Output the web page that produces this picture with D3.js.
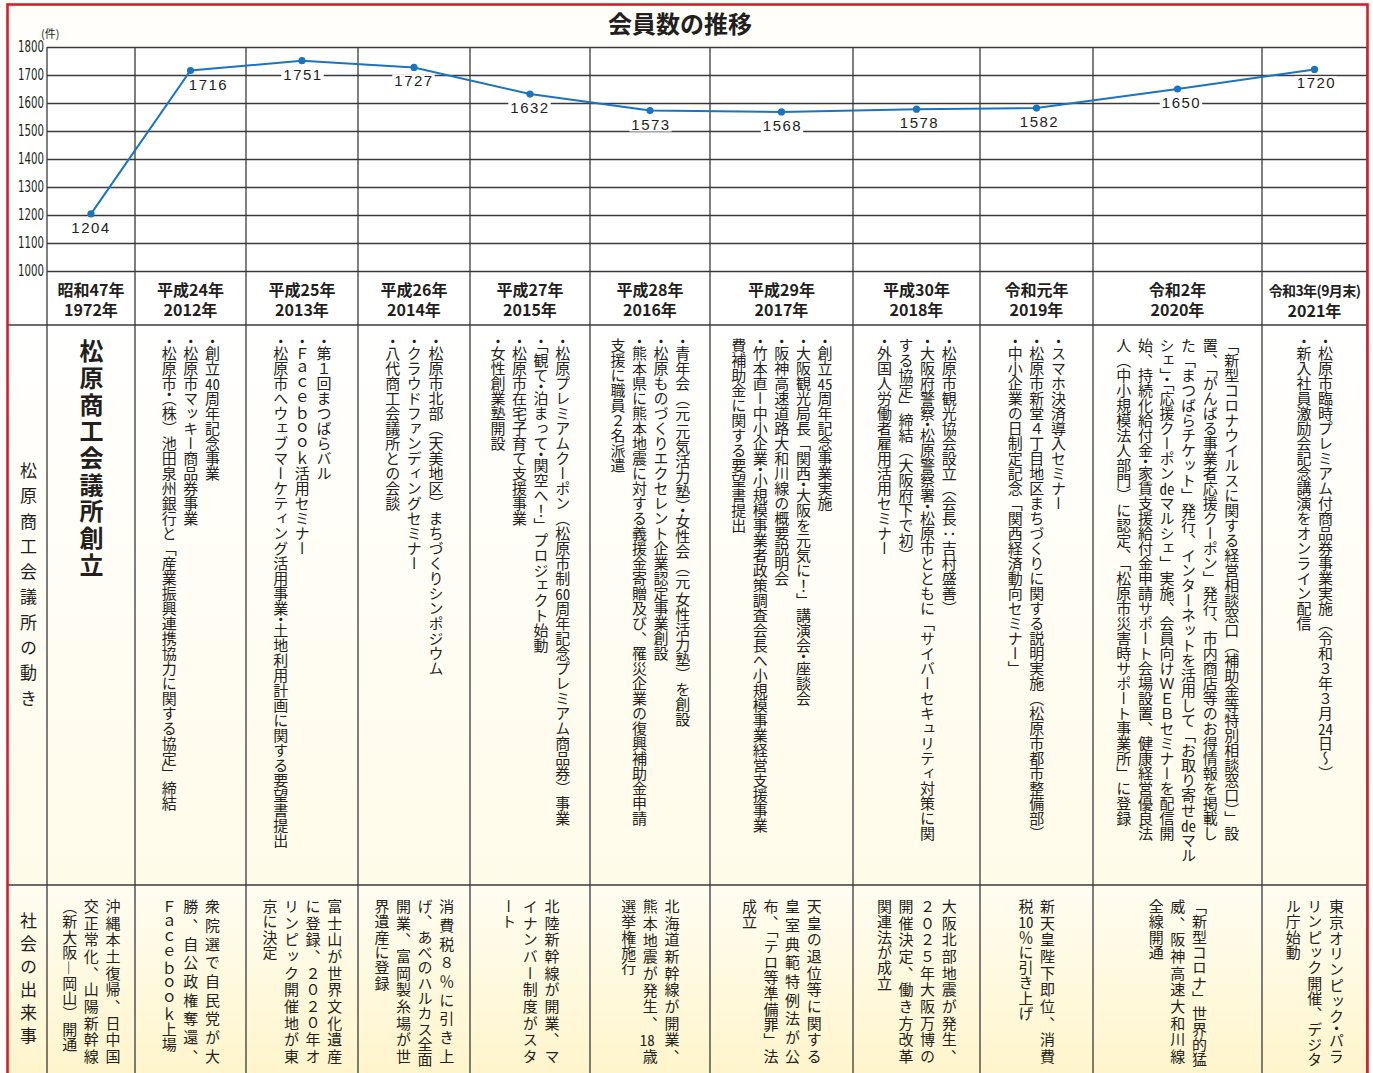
<!DOCTYPE html>
<html lang="ja">
<head>
<meta charset="utf-8">
<script src="https://cdn.jsdelivr.net/npm/d3@7"></script>
<style>
  body { margin: 0; background: #ffffff; }
  #wrap { position: relative; width: 1373px; height: 1073px; overflow: hidden;
          font-family: "Noto Sans CJK JP", "Noto Sans CJK SC", sans-serif; color: #231f20; }
  #wrap svg { position: absolute; left: 0; top: 0; }
  .vt { position: absolute; writing-mode: vertical-rl; white-space: nowrap; }
  .act { font-size: 15px; line-height: 21.6px; }
  .evt { font-size: 15px; line-height: 21.6px; letter-spacing: 0.3px; }
  .ln { display: block; }
  .jus { text-align: justify; text-align-last: justify; text-justify: inter-character; }
  .tcy { text-combine-upright: all; }
  .h { font-feature-settings: "vhal"; }
  .yr { position: absolute; text-align: center; font-weight: 700; font-size: 16px; line-height: 20px; white-space: pre; }
</style>
</head>
<body>
<script>
// ---------------- data ----------------
const eraLabels = ["昭和47年","平成24年","平成25年","平成26年","平成27年","平成28年","平成29年","平成30年","令和元年","令和2年","令和3年(9月末)"];
const yearLabels = ["1972年","2012年","2013年","2014年","2015年","2016年","2017年","2018年","2019年","2020年","2021年"];
const members = [1204, 1716, 1751, 1727, 1632, 1573, 1568, 1578, 1582, 1650, 1720];
const yTicks = [1000, 1100, 1200, 1300, 1400, 1500, 1600, 1700, 1800];
const chartTitle = "会員数の推移";
const unitLabel = "(件)";
const rowLabelActivities = "松原商工会議所の動き";
const rowLabelEvents = "社会の出来事";
const founding = "松原商工会議所創立";

const activities = [
  [],
  ["・創立{40}周年記念事業","・松原市マッキー商品券事業","・松原市・（株）池田泉州銀行と「産業振興連携協力に関する協定」締結"],
  ["・第１回まつばらバル","・Ｆａｃｅｂｏｏｋ活用セミナー","・松原市へウェブマーケティング活用事業・土地利用計画に関する要望書提出"],
  ["・松原市北部（天美地区）まちづくりシンポジウム","・クラウドファンディングセミナー","・八代商工会議所との会談"],
  ["・松原プレミアムクーポン（松原市制{60}周年記念プレミアム商品券）事業","・「観て・泊まって・関空へ！」プロジェクト始動","・松原市在宅子育て支援事業","・女性創業塾開設"],
  ["・青年会（元 元気活力塾）・女性会（元 女性活力塾）を創設","・松原ものづくりエクセレント企業認定事業創設","・熊本県に熊本地震に対する義援金寄贈及び、罹災企業の復興補助金申請","支援に職員２名派遣"],
  ["・創立{45}周年記念事業実施","・大阪観光局長「関西・大阪を元気に！」講演会・座談会","・阪神高速道路大和川線の概要説明会","・竹本直ー中小企業・小規模事業者政策調査会長へ小規模事業経営支援事業","費補助金に関する要望書提出"],
  ["・松原市観光協会設立（会長：吉村盛善）","・大阪府警察・松原警察署・松原市とともに「サイバーセキュリティ対策に関","する協定」締結（大阪府下で初）","・外国人労働者雇用活用セミナー"],
  ["・スマホ決済導入セミナー","・松原市新堂４丁目地区まちづくりに関する説明実施（松原市都市整備部）","・中小企業の日制定記念「関西経済動向セミナー」"],
  ["「新型コロナウイルスに関する経営相談窓口（補助金等特別相談窓口）」設","置、「がんばる事業者応援クーポン」発行、市内商店等のお得情報を掲載し","た「まつばらチケット」発行、インターネットを活用して「お取り寄せ{de}マル","シェ」・「応援クーポン{de}マルシェ」実施、会員向けＷＥＢセミナーを配信開","始、持続化給付金・家賃支援給付金申請サポート会場設置、健康経営優良法","人（中小規模法人部門）に認定、「松原市災害時サポート事業所」に登録"],
  ["・松原市臨時プレミアム付商品券事業実施（令和３年３月{24}日～）","・新入社員激励会記念講演をオンライン配信"]
];

const events = [
  ["沖縄本土復帰、日中国","交正常化、山陽新幹線","（新大阪―岡山）開通"],
  ["衆院選で自民党が大","勝、自公政権奪還、","Ｆａｃｅｂｏｏｋ上場"],
  ["富士山が世界文化遺産","に登録、２０２０年オ","リンピック開催地が東","京に決定"],
  ["消費税８％に引き上","げ、あべのハルカス全面","開業、富岡製糸場が世","界遺産に登録"],
  ["北陸新幹線が開業、マ","イナンバー制度がスタ","ート"],
  ["北海道新幹線が開業、","熊本地震が発生、{18}歳","選挙権施行"],
  ["天皇の退位等に関する","皇室典範特例法が公","布、「テロ等準備罪」法","成立"],
  ["大阪北部地震が発生、","２０２５年大阪万博の","開催決定、働き方改革","関連法が成立"],
  ["新天皇陛下即位、消費","税{10}％に引き上げ"],
  ["「新型コロナ」世界的猛","威、阪神高速大和川線","全線開通"],
  ["東京オリンピック・パラ","リンピック開催、デジタ","ル庁始動"]
];

// ---------------- layout ----------------
const W = 1373, H = 1073;
const colEdges = [47, 135, 246, 358, 470, 590, 710, 853, 980, 1093, 1262, 1367];
const plotTop = 47, plotBottom = 271, yearRowBottom = 325, eventRowTop = 885;
const borderLeft = 7;
const labelShift = [0, 18, 1, 0, 0, 1, 1, 3, 3, 4, 2];
const ink = "#231f20", gridColor = "#3a3a3a", lineBlue = "#1b74bf", red = "#d2202c";

const centers = colEdges.slice(0, -1).map((e, i) => (e + colEdges[i + 1]) / 2);
const x = d3.scaleOrdinal().domain(yearLabels).range(centers);
const y = d3.scaleLinear().domain([1000, 1800]).range([plotBottom, plotTop]);

const wrap = d3.select("body").append("div").attr("id", "wrap");
const svg = wrap.append("svg").attr("width", W).attr("height", H);

// gradients
const defs = svg.append("defs");
function grad(id, c0, c1) {
  const g = defs.append("linearGradient").attr("id", id).attr("x1", 0).attr("y1", 0).attr("x2", 0).attr("y2", 1);
  g.append("stop").attr("offset", "0%").attr("stop-color", c0);
  g.append("stop").attr("offset", "100%").attr("stop-color", c1);
}
grad("gMid", "#ffffff", "#fffbe9");
grad("gBot", "#fffdf2", "#fff5cc");

svg.append("rect").attr("x", 0).attr("y", 0).attr("width", W).attr("height", plotTop).attr("fill", "#fffefa");
svg.append("rect").attr("x", borderLeft).attr("y", yearRowBottom).attr("width", colEdges[colEdges.length - 1] - borderLeft)
  .attr("height", eventRowTop - yearRowBottom).attr("fill", "url(#gMid)");
svg.append("rect").attr("x", borderLeft).attr("y", eventRowTop).attr("width", colEdges[colEdges.length - 1] - borderLeft)
  .attr("height", H - eventRowTop).attr("fill", "url(#gBot)");

// horizontal grid + y tick labels via axis
const gAxis = svg.append("g").attr("transform", `translate(${colEdges[0]},0)`)
  .call(d3.axisLeft(y).tickValues(yTicks).tickSize(-(colEdges[colEdges.length - 1] - colEdges[0])).tickPadding(3).tickFormat(d => String(d)));
gAxis.select(".domain").remove();
gAxis.selectAll(".tick line").attr("stroke", gridColor).attr("stroke-width", 1.3);
gAxis.selectAll(".tick text")
  .attr("font-family", "'Liberation Sans Narrow', 'DejaVu Sans Condensed', 'Liberation Sans', sans-serif")
  .attr("font-size", 15).attr("fill", ink).attr("x", -3)
  .attr("textLength", 26).attr("lengthAdjust", "spacingAndGlyphs");

// row separators
svg.selectAll("line.row").data([yearRowBottom, eventRowTop]).join("line").attr("class", "row")
  .attr("x1", borderLeft).attr("x2", colEdges[colEdges.length - 1]).attr("y1", d => d).attr("y2", d => d)
  .attr("stroke", gridColor).attr("stroke-width", 1.3);

// column lines
svg.selectAll("line.col").data(colEdges).join("line").attr("class", "col")
  .attr("x1", d => d).attr("x2", d => d).attr("y1", plotTop).attr("y2", H)
  .attr("stroke", gridColor).attr("stroke-width", 1.3);

// unit label
svg.append("text").attr("x", 41).attr("y", 38).attr("font-size", 11).attr("fill", ink).text(unitLabel);

// title
svg.append("text").attr("x", 680).attr("y", 33).attr("text-anchor", "middle")
  .attr("font-size", 24).attr("font-weight", 700).attr("fill", ink).text(chartTitle);

// value labels
const lg = svg.append("g");
members.forEach((v, i) => {
  const g = lg.append("g");
  const t = g.append("text").attr("x", x(yearLabels[i]) + labelShift[i]).attr("y", y(v) + 19)
    .attr("text-anchor", "middle").attr("font-family", "'Liberation Sans', Arial, sans-serif")
    .attr("font-size", 15).attr("letter-spacing", "1.5px").attr("fill", ink).text(v);
  const b = t.node().getBBox();
  g.insert("rect", "text").attr("x", b.x - 2).attr("y", b.y + 2).attr("width", b.width + 3).attr("height", b.height - 3).attr("fill", "#ffffff");
});

// line + points
svg.append("path").datum(members)
  .attr("d", d3.line().x((d, i) => x(yearLabels[i])).y(d => y(d)))
  .attr("fill", "none").attr("stroke", lineBlue).attr("stroke-width", 2);
svg.selectAll("circle.pt").data(members).join("circle").attr("class", "pt")
  .attr("cx", (d, i) => x(yearLabels[i])).attr("cy", d => y(d)).attr("r", 3.6).attr("fill", lineBlue);

// red frame
svg.append("rect").attr("x", 7.5).attr("y", 4.5).attr("width", 1360).attr("height", 1120)
  .attr("fill", "none").attr("stroke", red).attr("stroke-width", 2.6);

// year row labels (HTML, one text node with two lines each)
eraLabels.forEach((lab, i) => {
  const left = colEdges[i], w = colEdges[i + 1] - colEdges[i];
  const d = wrap.append("div").attr("class", "yr")
    .style("left", left + "px").style("width", w + "px").style("top", "279px");
  const probe = d.append("span").text(lab);
  const tooWide = probe.node().getBoundingClientRect().width > w - 14;
  probe.remove();
  if (tooWide) {
    d.append("span").style("font-size", "14px").style("letter-spacing", "-0.6px").text(lab);
    d.append("br");
    d.append("span").text(yearLabels[i]);
  } else {
    d.text(lab + "\n" + yearLabels[i]);
  }
});

// ---------------- vertical text ----------------
function fmt(s) {
  const esc = s.replace(/&/g, "&amp;").replace(/</g, "&lt;");
  return esc.replace(/・/g, c => `<span class="h">${c}</span>`)
            .replace(/\{([^}]+)\}/g, (m, p) => `<span class="tcy">${p}</span>`);
}
const pitch = 21.6;

// left row labels
wrap.append("div").attr("class", "vt")
  .style("left", "16px").style("width", "24px").style("top", "462px")
  .style("font-size", "17px").style("line-height", "24px").style("letter-spacing", "8.3px")
  .text(rowLabelActivities);
wrap.append("div").attr("class", "vt")
  .style("left", "16px").style("width", "24px").style("top", "912px")
  .style("font-size", "17px").style("line-height", "24px").style("letter-spacing", "6px")
  .text(rowLabelEvents);

// founding
wrap.append("div").attr("class", "vt")
  .style("left", (x(yearLabels[0]) - 15) + "px").style("width", "30px").style("top", "339px")
  .style("font-size", "24px").style("font-weight", "700").style("line-height", "30px").style("letter-spacing", "2.7px")
  .text(founding);

// activities
activities.forEach((lines, i) => {
  if (!lines.length) return;
  const w = lines.length * pitch;
  const d = wrap.append("div").attr("class", "vt act")
    .style("left", (x(yearLabels[i]) - w / 2) + "px").style("width", w + "px")
    .style("top", "338px").style("height", "540px");
  lines.forEach(l => d.append("div").attr("class", "ln").html(fmt(l)));
});

// events
events.forEach((lines, i) => {
  const w = lines.length * pitch;
  const d = wrap.append("div").attr("class", "vt evt")
    .style("left", (x(yearLabels[i]) - w / 2) + "px").style("width", w + "px")
    .style("top", "899px").style("height", "165px");
  lines.forEach((l, k) => d.append("div").attr("class", k < lines.length - 1 ? "ln jus" : "ln").html(fmt(l)));
});
</script>
</body>
</html>
